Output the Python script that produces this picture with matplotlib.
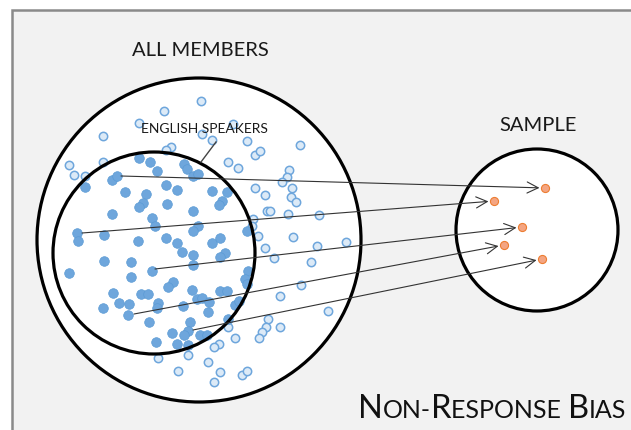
import matplotlib.pyplot as plt
from matplotlib.patches import Circle, Rectangle

plt.rcParams['font.family'] = ['Lato', 'DejaVu Sans']

# pixel coordinates (y grows downwards)
inner_dots_x = [139, 150, 157, 184, 187, 193, 198, 112, 117, 85, 125, 146, 143, 139, 166, 177,
                167, 212, 227, 222, 219, 112, 152, 155, 193, 198, 193, 247, 77, 78, 104, 138,
                166, 177, 182, 193, 212, 220, 225, 220, 104, 131, 193, 69, 152, 131, 248, 245,
                247, 173, 168, 192, 220, 227, 113, 141, 148, 119, 129, 103, 158, 157, 183, 197,
                202, 209, 208, 235, 239, 128, 149, 190, 228, 188, 184, 172, 200, 207, 156, 177, 188]
inner_dots_y = [159, 163, 172, 165, 170, 177, 175, 181, 177, 188, 193, 195, 204, 208, 186, 191,
                205, 192, 193, 202, 206, 215, 219, 227, 212, 227, 232, 232, 234, 242, 236, 242,
                239, 244, 253, 256, 244, 239, 254, 258, 262, 263, 266, 274, 272, 278, 272, 280,
                285, 283, 288, 291, 292, 292, 294, 295, 295, 304, 305, 309, 304, 309, 307, 300,
                299, 303, 313, 306, 302, 316, 323, 323, 320, 332, 336, 334, 336, 336, 343, 345, 346]

outer_dots_x = [201, 164, 139, 233, 103, 202, 212, 247, 171, 166, 255, 260, 300, 69, 103, 74,
                85, 228, 238, 289, 287, 282, 292, 265, 255, 291, 296, 267, 270, 288, 319, 253,
                252, 258, 293, 265, 274, 317, 346, 311, 301, 280, 328, 268, 266, 262, 259, 280,
                235, 228, 219, 214, 188, 158, 208, 178, 220, 214, 242, 247]
outer_dots_y = [102, 112, 124, 125, 137, 135, 141, 142, 148, 151, 156, 152, 146, 166, 163, 176,
                177, 163, 169, 171, 178, 183, 189, 196, 189, 198, 203, 212, 212, 215, 216, 220,
                227, 237, 238, 249, 259, 247, 243, 263, 286, 297, 312, 320, 328, 333, 339, 328,
                339, 328, 345, 348, 356, 359, 363, 372, 373, 383, 376, 372]

# five sampled members and where they land in the sample
src_x = [121, 82, 155, 134, 193]
src_y = [177, 234, 270, 315, 331]
smp_x = [545, 494, 522, 504, 542]
smp_y = [189, 202, 228, 246, 260]

title_parts = [("N", 23.5), ("ON-", 18), ("R", 23.5), ("ESPONSE ", 18), ("B", 23.5), ("IAS", 18)]

fig = plt.figure(figsize=(6.31, 4.31), dpi=100)
ax = fig.add_axes([0, 0, 1, 1])
ax.set_xlim(0, 631)
ax.set_ylim(431, 0)
ax.axis('off')

# grey panel with a thin frame on top/left
ax.add_patch(Rectangle((12, 11), 640, 440, facecolor='#f2f2f2', edgecolor='#8a8a8a',
                       lw=1.8, zorder=0))

# population, english speakers, sample
ax.add_patch(Circle((199, 241), 162, facecolor='white', edgecolor='black', lw=2.3, zorder=1))
ax.add_patch(Circle((537, 231), 81, facecolor='white', edgecolor='black', lw=2.3, zorder=1))

ax.scatter(outer_dots_x, outer_dots_y, s=36, facecolor='#dceaf7', edgecolor='#6ea6dc',
           lw=1.1, zorder=2)
ax.scatter(inner_dots_x, inner_dots_y, s=48, color='#6ea6dc', edgecolor='#5b9bd5',
           lw=0.5, zorder=2)

ax.add_patch(Circle((154, 254), 101, facecolor='none', edgecolor='black', lw=2.3, zorder=3))

for x0, y0, x1, y1 in zip(src_x, src_y, smp_x, smp_y):
    ax.annotate('', xy=(x1, y1), xytext=(x0, y0),
                arrowprops=dict(arrowstyle='->,head_length=0.8,head_width=0.4',
                                color='#333333', lw=0.8, shrinkA=0, shrinkB=4),
                zorder=4)
ax.scatter(smp_x, smp_y, s=34, color='#f4a582', edgecolor='#ed7d31', lw=0.8, zorder=5)

ax.text(200, 50, "ALL MEMBERS", ha='center', va='center', fontsize=14.5, color='#1a1a1a')
ax.text(538, 126, "SAMPLE", ha='center', va='center', fontsize=14.5, color='#1a1a1a')
ax.text(204, 129, "ENGLISH SPEAKERS", ha='center', va='center', fontsize=10,
        color='#1a1a1a', zorder=6)
ax.plot([216, 201], [143, 163], color='#444444', lw=1, zorder=4)

# small caps title, built piece by piece
fig.canvas.draw()
renderer = fig.canvas.get_renderer()
x = 358
for s, size in title_parts:
    t = ax.text(x, 418, s, fontsize=size, ha='left', va='baseline', color='#111111')
    x += t.get_window_extent(renderer=renderer).width

fig.savefig('out.png', dpi=100)
